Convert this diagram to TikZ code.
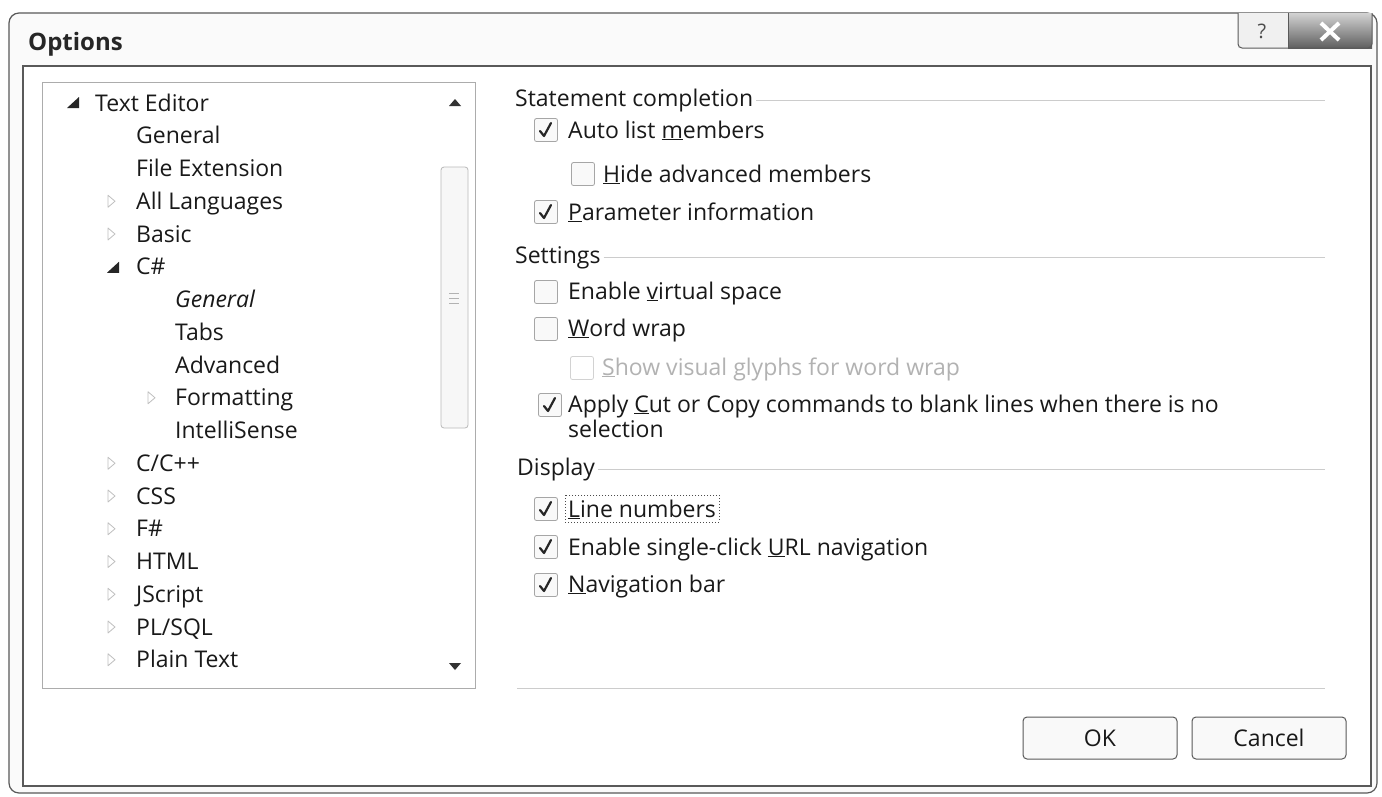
\documentclass[tikz,border=0pt]{standalone}
\usepackage{fontspec}
\setmainfont{Open Sans}
\begin{document}
\begin{tikzpicture}[x=1pt,y=-1pt,
  lbl/.style={anchor=base west, inner sep=0pt, font=\fontsize{23}{27}\selectfont, text=black!90},
  head/.style={lbl},
  dis/.style={lbl, text=gray!60},
  cb/.style={draw=gray!70, fill=gray!5, rounded corners=2pt, minimum size=23pt, inner sep=0pt, line width=0.8pt},
  cbdis/.style={cb, draw=gray!35, fill=white},
  chk/.style={line width=2.2pt, line cap=round, line join=round, black!85},
  grp/.style={draw=gray!40, line width=0.8pt},
  expd/.style={fill=black!85},
  coll/.style={draw=gray!50, line width=0.8pt, fill=white, line join=round},
  btn/.style={draw=gray!70!black, rounded corners=4pt, fill=gray!5, line width=1pt, minimum width=154pt, minimum height=42pt, inner sep=0pt, font=\fontsize{23}{27}\selectfont, text=black!90}
]
\useasboundingbox (0,0) rectangle (1382,796);
\fill[white] (0,0) rectangle (1382,796);
% window frame
\draw[gray!70!black, line width=1.2pt, fill=gray!4, rounded corners=10pt] (9,13) rectangle (1377,793);
\draw[gray!70!black, line width=1.2pt, fill=white] (23,66) rectangle (1371,786);
\node[anchor=base west, inner sep=0pt, font=\fontsize{24}{28}\selectfont\bfseries, text=black!85] (title) at (28,50) {Options};
% caption buttons
\fill[gray!12] (1238,13) rectangle (1288,48);
\shade[top color=gray!35, bottom color=gray!75!black] (1288,13) rectangle (1372,48);
\draw[gray!70!black, line width=1pt, rounded corners=4pt] (1238,13) -- (1238,48) -- (1372,48) -- (1372,13);
\draw[gray!70!black, line width=1pt] (1288,13) -- (1288,48);
\node[inner sep=0pt, font=\fontsize{20}{22}\selectfont, text=gray!60!black] (help) at (1262,31) {?};
\draw[white, line width=4pt] (1321,23) -- (1339,40) (1339,23) -- (1321,40);
% tree box
\draw[gray!65, line width=1pt] (42,82) rectangle (475,688);
% scrollbar
\fill[black!80] (449,106) -- (461,106) -- (455,99) -- cycle;
\fill[black!80] (449,663) -- (461,663) -- (455,670) -- cycle;
\draw[gray!55, fill=gray!6, rounded corners=3pt, line width=0.8pt] (441,167) rectangle (468,428);
\draw[gray!60, line width=1pt] (449,293) -- (459,293) (449,298) -- (459,298) (449,303) -- (459,303);
% tree items
\fill[expd] (67,108) -- (79,108) -- (79,97) -- cycle;
\node[lbl] (t0) at (95,111) {Text Editor};
\node[lbl] (t1) at (136,143.75) {General};
\node[lbl] (t2) at (136,176.5) {File Extension};
\draw[coll] (108,195.25) -- (108,207.25) -- (115,201.25) -- cycle;
\node[lbl] (t3) at (136,209.25) {All Languages};
\draw[coll] (108,228) -- (108,240) -- (115,234) -- cycle;
\node[lbl] (t4) at (136,242) {Basic};
\fill[expd] (107,272.75) -- (119,272.75) -- (119,261.75) -- cycle;
\node[lbl] (t5) at (136,274.75) {C\#};
\node[lbl, font=\fontsize{23}{27}\selectfont\itshape] (t6) at (175,307.5) {General};
\node[lbl] (t7) at (175,340.25) {Tabs};
\node[lbl] (t8) at (175,373) {Advanced};
\draw[coll] (148,391.75) -- (148,403.75) -- (155,397.75) -- cycle;
\node[lbl] (t9) at (175,405.75) {Formatting};
\node[lbl] (t10) at (175,438.5) {IntelliSense};
\draw[coll] (108,457.25) -- (108,469.25) -- (115,463.25) -- cycle;
\node[lbl] (t11) at (136,471.25) {C/C++};
\draw[coll] (108,490) -- (108,502) -- (115,496) -- cycle;
\node[lbl] (t12) at (136,504) {CSS};
\draw[coll] (108,522.75) -- (108,534.75) -- (115,528.75) -- cycle;
\node[lbl] (t13) at (136,536.75) {F\#};
\draw[coll] (108,555.5) -- (108,567.5) -- (115,561.5) -- cycle;
\node[lbl] (t14) at (136,569.5) {HTML};
\draw[coll] (108,588.25) -- (108,600.25) -- (115,594.25) -- cycle;
\node[lbl] (t15) at (136,602.25) {JScript};
\draw[coll] (108,621) -- (108,633) -- (115,627) -- cycle;
\node[lbl] (t16) at (136,635) {PL/SQL};
\draw[coll] (108,653.75) -- (108,665.75) -- (115,659.75) -- cycle;
\node[lbl] (t17) at (136,667.75) {Plain Text};
% right pane
\coordinate (rgt) at (1325,0);
\node[head] (h1) at (515,106) {Statement completion};
\draw[grp] ([xshift=3pt]h1.east) -- (h1.east -| rgt);
\node[cb] (c1) at (546,130) {};
\draw[chk, shift={(c1.center)}] (-6,1) -- (-2,6) -- (5,-7);
\node[lbl] (l1) at (568,138) {Auto list \underline{m}embers};
\node[cb] (c2) at (583,174) {};
\node[lbl] (l2) at (603,182) {\underline{H}ide advanced members};
\node[cb] (c3) at (546,212) {};
\draw[chk, shift={(c3.center)}] (-6,1) -- (-2,6) -- (5,-7);
\node[lbl] (l3) at (568,220) {\underline{P}arameter information};
\node[head] (h2) at (515,263) {Settings};
\draw[grp] ([xshift=3pt]h2.east) -- (h2.east -| rgt);
\node[cb] (c4) at (546,292) {};
\node[lbl] (l4) at (568,299) {Enable \underline{v}irtual space};
\node[cb] (c5) at (546,329) {};
\node[lbl] (l5) at (568,336) {\underline{W}ord wrap};
\node[cbdis] (c6) at (582,368) {};
\node[dis] (l6) at (602,375) {\underline{S}how visual glyphs for word wrap};
\node[cb] (c7) at (550,405) {};
\draw[chk, shift={(c7.center)}] (-6,1) -- (-2,6) -- (5,-7);
\node[lbl] (l7) at (568,412) {Apply \underline{C}ut or Copy commands to blank lines when there is no};
\node[lbl] (l7b) at (568,437) {selection};
\node[head] (h3) at (517,475) {Display};
\draw[grp] ([xshift=3pt]h3.east) -- (h3.east -| rgt);
\node[cb] (c8) at (546,509) {};
\draw[chk, shift={(c8.center)}] (-6,1) -- (-2,6) -- (5,-7);
\node[lbl] (l8) at (568,517) {\underline{L}ine numbers};
\draw[dotted, gray!60!black, line width=1pt] ([xshift=-3pt,yshift=4pt]l8.north west) rectangle ([xshift=3pt,yshift=-3pt]l8.south east);
\node[cb] (c9) at (546,547) {};
\draw[chk, shift={(c9.center)}] (-6,1) -- (-2,6) -- (5,-7);
\node[lbl] (l9) at (568,555) {Enable single-click \underline{U}RL navigation};
\node[cb] (c10) at (546,585) {};
\draw[chk, shift={(c10.center)}] (-6,1) -- (-2,6) -- (5,-7);
\node[lbl] (l10) at (568,592) {\underline{N}avigation bar};
% separator
\coordinate (sepL) at (517,688);
\coordinate (sepR) at (1325,688);
\draw[grp] (sepL) -- (sepR);
% buttons
\node[btn] (ok) at (1100,738) {OK};
\node[btn] (cancel) at (1269,738) {Cancel};
\end{tikzpicture}
\end{document}
